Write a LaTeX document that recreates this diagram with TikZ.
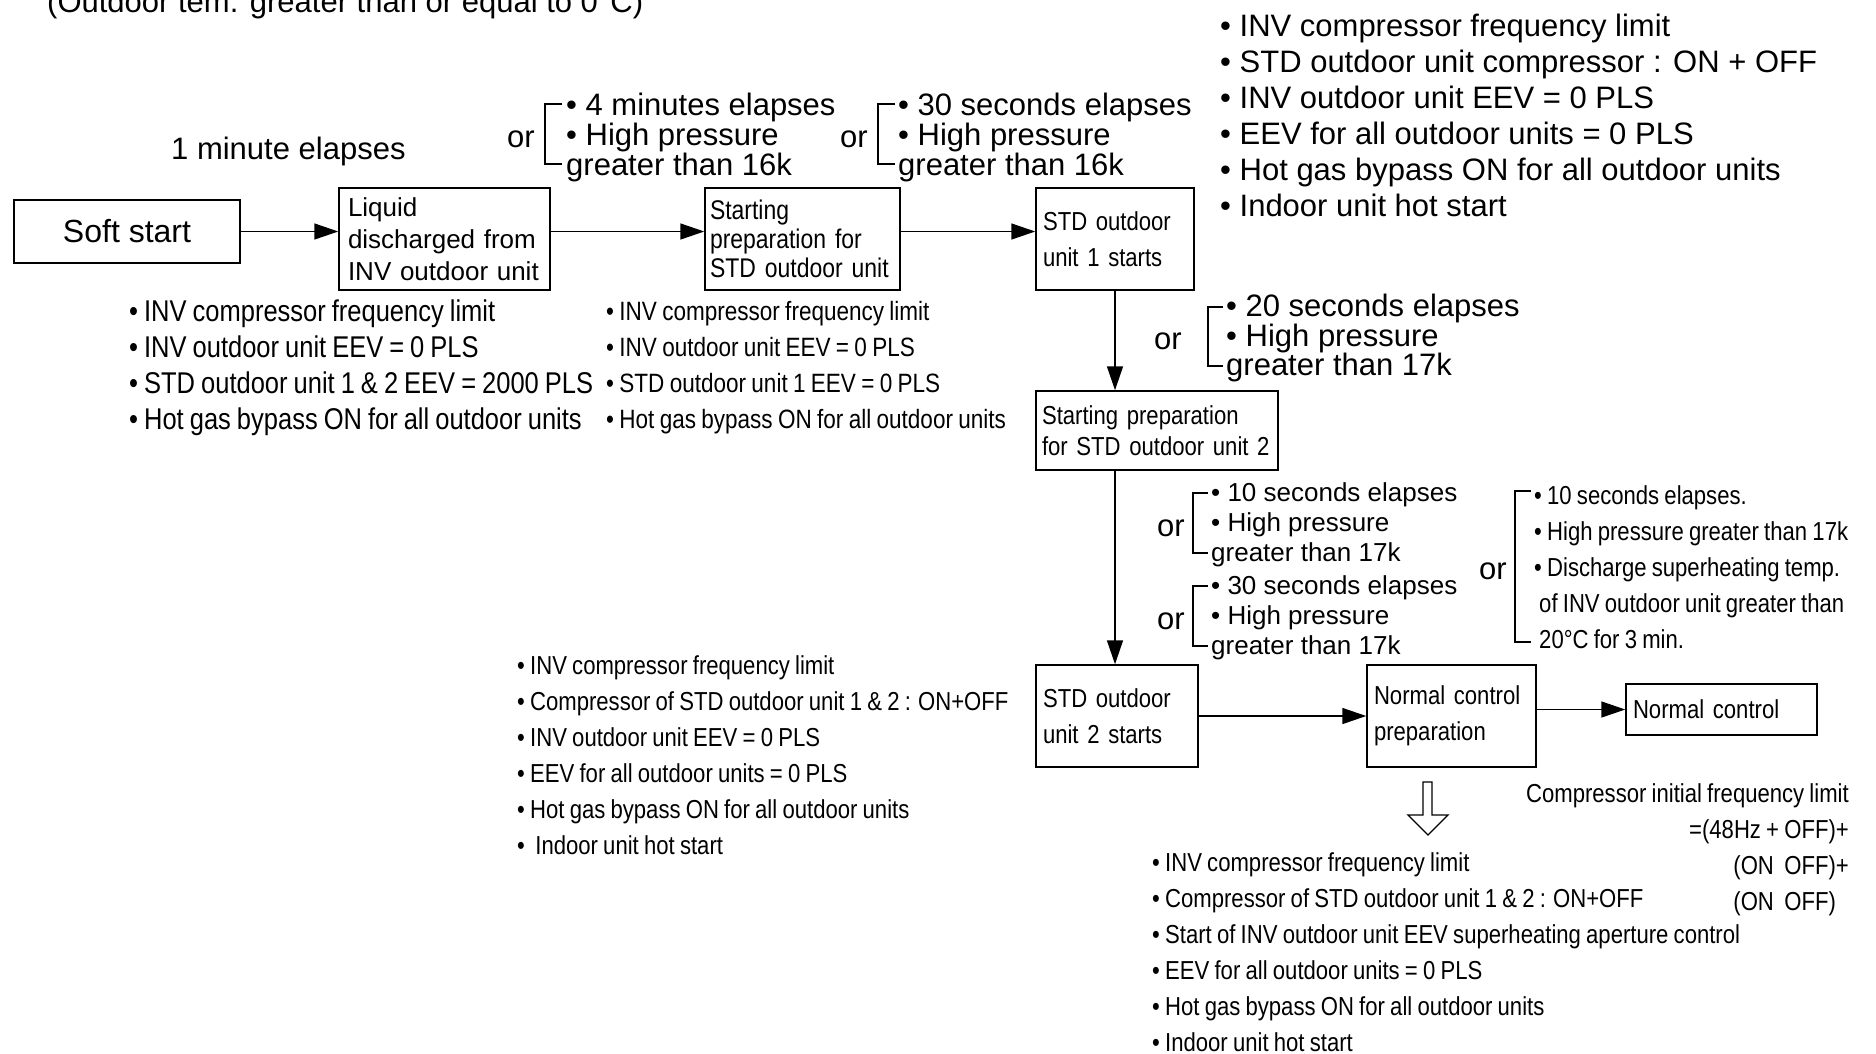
\documentclass[tikz,border=0pt]{standalone}
\usepackage{fontspec}
\setmainfont{Liberation Sans}
\newfontfamily\condfont[FakeStretch=0.85, WordSpace=0.85]{Liberation Sans}
\usetikzlibrary{arrows.meta, positioning}

\tikzset{
  box/.style={draw, line width=1.5pt, inner xsep=7pt, inner ysep=0pt, align=left},
  note/.style={inner sep=0pt, anchor=west, align=left},
  flow/.style={-{Triangle[length=24pt, width=16pt]}, line width=1.5pt},
  brack/.style={line width=1.3pt},
}

\begin{document}
\begin{tikzpicture}[x=1pt, y=-1pt]
                \useasboundingbox (0,0) rectangle (1876,1053);

                % 1. Tiêu đề (bị cắt ở mép trên)
                \node[inner sep=0pt, anchor=base west, font=\fontsize{31}{36}\selectfont] (title) at (47,12)
                    {(Outdoor tem. greater than or equal to 0°C)};

                % 2. Các hộp
                \node[box, font=\fontsize{32}{36}\selectfont, minimum width=226pt, minimum height=63pt, align=center]
                    (soft) at (127,231.5) {Soft start};
                \node[box, inner xsep=9pt, font=\fontsize{26}{32}\selectfont, text width=193pt, minimum height=102pt]
                    (liquid) at (444.5,239) {Liquid\\discharged from\\INV outdoor unit};
                \node[box, inner xsep=5pt, font=\condfont\fontsize{27}{29}\selectfont, text width=185pt, minimum height=102pt]
                    (prepstd) at (802.5,239) {Starting\\preparation for\\STD outdoor unit};
                \node[box, font=\condfont\fontsize{26}{36}\selectfont, text width=144pt, minimum height=102pt]
                    (std1) at (1115,239) {STD outdoor\\unit 1 starts};
                \node[box, inner xsep=6pt, font=\condfont\fontsize{26}{31}\selectfont, text width=230pt, minimum height=79pt]
                    (prep2) at (1157,430.5) {Starting preparation\\for STD outdoor unit 2};
                \node[box, font=\condfont\fontsize{26}{36}\selectfont, text width=148pt, minimum height=102pt]
                    (std2) at (1117,716) {STD outdoor\\unit 2 starts};
                \node[box, font=\condfont\fontsize{26}{36}\selectfont, text width=155pt, minimum height=102pt]
                    (ncprep) at (1451.5,716) {Normal control\\preparation};
                \node[box, font=\condfont\fontsize{26}{36}\selectfont, text width=177pt, minimum height=51pt]
                    (nc) at (1721.5,709.5) {Normal control};

                % 3. Mũi tên
                \draw[flow] (soft.east) -- (soft.east -| liquid.west);
                \draw[flow] (liquid.east |- soft.east) -- (prepstd.west |- soft.east);
                \draw[flow] (prepstd.east |- soft.east) -- (std1.west |- soft.east);
                \draw[flow] (std1.south) -- (prep2.north -| std1.south);
                \draw[flow] (prep2.south -| std1.south) -- (std2.north -| std1.south);
                \draw[flow] (std2.east) -- (ncprep.west);
                \draw[flow] (ncprep.east |- nc.west) -- (nc.west);
                \draw[line width=1.3pt] (1423,782) -- (1432,782) -- (1432,815) -- (1448,815)
                    -- (1428,835) -- (1408,815) -- (1423,815) -- cycle;

                % 4. Điều kiện chuyển
                \node[note, font=\fontsize{31}{36}\selectfont] (t1min) at (171,151) {1 minute elapses};

                \node[note, font=\fontsize{31}{30}\selectfont] (condA) at (566,137)
                    {• 4 minutes elapses\\• High pressure\\greater than 16k};
                \node[note, font=\fontsize{31}{36}\selectfont] (orA) at (507,139) {or};
                \draw[brack] (562,104) -- (545,104) -- (545,164) -- (562,164);

                \node[note, font=\fontsize{31}{30}\selectfont] (condB) at (898,137)
                    {• 30 seconds elapses\\• High pressure\\greater than 16k};
                \node[note, font=\fontsize{31}{36}\selectfont] (orB) at (840,139) {or};
                \draw[brack] (895,104) -- (878,104) -- (878,164) -- (895,164);

                \node[note, font=\fontsize{31}{29.5}\selectfont] (condC) at (1226,338)
                    {• 20 seconds elapses\\• High pressure\\greater than 17k};
                \node[note, font=\fontsize{31}{36}\selectfont] (orC) at (1154,341) {or};
                \draw[brack] (1223,307) -- (1208,307) -- (1208,366) -- (1223,366);

                \node[note, font=\fontsize{26}{30}\selectfont] (condD) at (1211,525)
                    {• 10 seconds elapses\\• High pressure\\greater than 17k};
                \node[note, font=\fontsize{31}{36}\selectfont] (orD) at (1157,528) {or};
                \draw[brack] (1208,493) -- (1193,493) -- (1193,553) -- (1208,553);

                \node[note, font=\fontsize{26}{30}\selectfont] (condE) at (1211,618)
                    {• 30 seconds elapses\\• High pressure\\greater than 17k};
                \node[note, font=\fontsize{31}{36}\selectfont] (orE) at (1157,621) {or};
                \draw[brack] (1208,586) -- (1193,586) -- (1193,646) -- (1208,646);

                \node[note, font=\condfont\fontsize{26}{36}\selectfont] (condF) at (1534,567)
                    {• 10 seconds elapses.\\• High pressure greater than 17k\\• Discharge superheating temp.\\
                     \hspace*{5pt}of INV outdoor unit greater than\\\hspace*{5pt}20°C for 3 min.};
                \node[note, font=\fontsize{31}{36}\selectfont] (orF) at (1479,571) {or};
                \draw[brack] (1531,491) -- (1515,491) -- (1515,642) -- (1531,642);

                % 5. Danh sách điều khiển
                \node[note, font=\condfont\fontsize{30}{36}\selectfont] (listA) at (129,368)
                    {• INV compressor frequency limit\\• INV outdoor unit EEV = 0 PLS\\
                     • STD outdoor unit 1 \& 2 EEV = 2000 PLS\\• Hot gas bypass ON for all outdoor units};
                \node[note, font=\condfont\fontsize{26.5}{36}\selectfont] (listB) at (606,368)
                    {• INV compressor frequency limit\\• INV outdoor unit EEV = 0 PLS\\
                     • STD outdoor unit 1 EEV = 0 PLS\\• Hot gas bypass ON for all outdoor units};
                \node[note, font=\fontsize{31}{36}\selectfont] (listC) at (1220,115)
                    {• INV compressor frequency limit\\• STD outdoor unit compressor : ON + OFF\\
                     • INV outdoor unit EEV = 0 PLS\\• EEV for all outdoor units = 0 PLS\\
                     • Hot gas bypass ON for all outdoor units\\• Indoor unit hot start};
                \node[note, font=\condfont\fontsize{26}{36}\selectfont] (listD) at (517,755)
                    {• INV compressor frequency limit\\• Compressor of STD outdoor unit 1 \& 2 : ON+OFF\\
                     • INV outdoor unit EEV = 0 PLS\\• EEV for all outdoor units = 0 PLS\\
                     • Hot gas bypass ON for all outdoor units\\•\ \ Indoor unit hot start};
                \node[note, font=\condfont\fontsize{26}{36}\selectfont] (listE) at (1152,952)
                    {• INV compressor frequency limit\\• Compressor of STD outdoor unit 1 \& 2 : ON+OFF\\
                     • Start of INV outdoor unit EEV superheating aperture control\\
                     • EEV for all outdoor units = 0 PLS\\• Hot gas bypass ON for all outdoor units\\
                     • Indoor unit hot start};
                \node[inner sep=0pt, anchor=east, align=right, font=\condfont\fontsize{26}{36}\selectfont]
                    (freq) at (1849,850)
                    {Compressor initial frequency limit\\=(48Hz + OFF)+\\(ON\ \ OFF)+\\(ON\ \ OFF)\phantom{+}};
            \end{tikzpicture}
\end{document}
